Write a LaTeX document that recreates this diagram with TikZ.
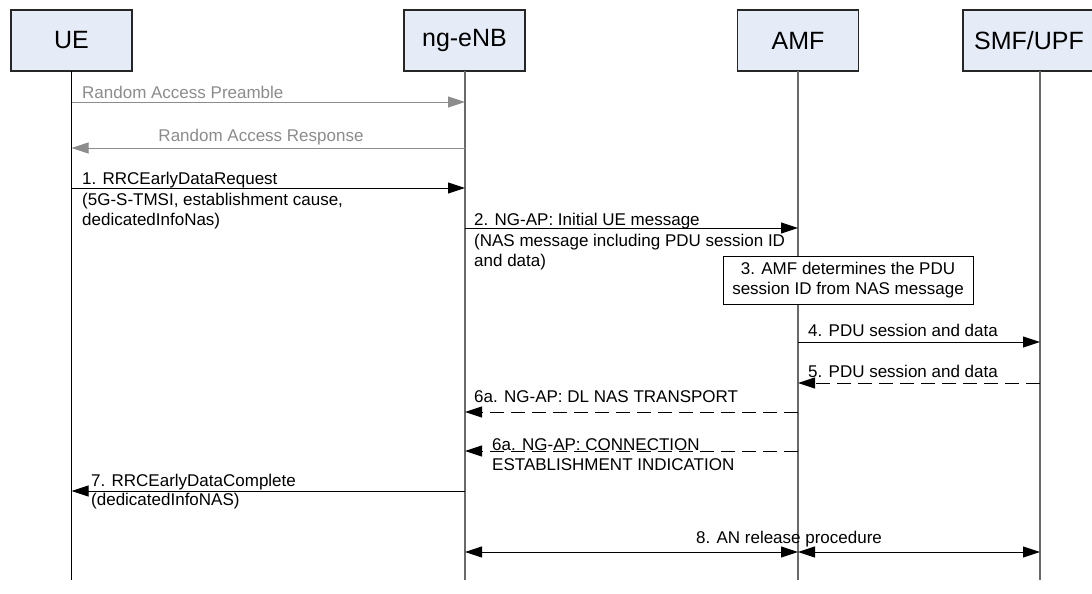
\documentclass[tikz,border=0pt]{standalone}
\usepackage{fontspec}
\setmainfont{Liberation Sans}
\usetikzlibrary{arrows.meta}
\definecolor{boxfill}{RGB}{230,236,247}
\definecolor{msggray}{RGB}{140,140,140}
\definecolor{lifegray}{RGB}{105,105,105}
\begin{document}
\begin{tikzpicture}[x=1pt,y=-1pt,
  head/.style={draw=black!85, fill=boxfill, line width=1.1pt, minimum width=121pt, minimum height=61pt, inner sep=0pt, font=\fontsize{25}{30}\selectfont},
  life/.style={draw=lifegray, line width=1.3pt},
  tip/.style={},
  msg/.style={draw=black, line width=0.9pt, -{Triangle[length=17pt,width=11pt]}},
  ramsg/.style={msg, draw=msggray},
  dmsg/.style={msg, dash pattern=on 14pt off 7pt},
  bimsg/.style={draw=black, line width=0.9pt, {Triangle[length=17pt,width=11pt]}-{Triangle[length=17pt,width=11pt]}},
  lbl/.style={font=\fontsize{17}{20}\selectfont, inner sep=0pt, anchor=base west},
  clbl/.style={lbl, anchor=base},
  stepbox/.style={draw=black, fill=white, line width=1pt, minimum width=250pt, minimum height=48pt, inner sep=0pt, align=center, font=\fontsize{17}{20}\selectfont}
]
\clip (0,0) rectangle (1092,594);
\fill[white] (0,0) rectangle (1092,594);

% header boxes
\node[head] (ue) at (71.5,40.5) {UE};
\node[head] (enb) at (464.5,40.5) {ng-eNB};
\node[head] (amf) at (798,40.5) {AMF};
\node[head, minimum width=132pt] (smf) at (1029,40.5) {SMF/UPF};

% lifelines
\coordinate (ueT) at (71.5,71);   \coordinate (ueB) at (71.5,580);
\coordinate (enbT) at (465,71);   \coordinate (enbB) at (465,580);
\coordinate (amfT) at (798,71);   \coordinate (amfB) at (798,580);
\coordinate (smfT) at (1040,71);  \coordinate (smfB) at (1040,580);
\draw[draw=black, line width=1pt] (ueT) -- (ueB);
\draw[life] (enbT) -- (enbB);
\draw[life] (amfT) -- (amfB);
\draw[life] (smfT) -- (smfB);

% message levels
\coordinate (m0) at (0,102);
\coordinate (m00) at (0,148);
\coordinate (m1) at (0,188);
\coordinate (m2) at (0,228);
\coordinate (m4) at (0,342);
\coordinate (m5) at (0,383);
\coordinate (m6) at (0,412);
\coordinate (m6b) at (0,451);
\coordinate (m7) at (0,491);
\coordinate (m8) at (0,552);

% Random access
\draw[ramsg] (ueT|-m0) -- (enbT|-m0);
\node[lbl, text=msggray] (t0) at (82,98) {Random Access Preamble};
\draw[ramsg] (enbT|-m00) -- (ueT|-m00);
\node[clbl, text=msggray] (t00) at (261,141) {Random Access Response};

% 1
\draw[msg] (ueT|-m1) -- (enbT|-m1);
\node[lbl] (t1a) at (82,184) {1. RRCEarlyDataRequest};
\node[lbl] (t1b) at (82,205) {(5G-S-TMSI, establishment cause,};
\node[lbl] (t1c) at (82,225) {dedicatedInfoNas)};

% 2
\draw[msg] (enbT|-m2) -- (amfT|-m2);
\node[lbl] (t2a) at (474,225) {2. NG-AP: Initial UE message};
\node[lbl] (t2b) at (474,246) {(NAS message including PDU session ID};
\node[lbl] (t2c) at (474,266) {and data)};

% 3
\node[stepbox] (s3) at (848,280) {3. AMF determines the PDU\\session ID from NAS message};

% 4
\draw[msg] (amfT|-m4) -- (smfT|-m4);
\node[lbl] (t4) at (808,336) {4. PDU session and data};

% 5
\draw[dmsg] (smfT|-m5) -- (amfT|-m5);
\node[lbl] (t5) at (808,377) {5. PDU session and data};

% 6a
\draw[dmsg] (amfT|-m6) -- (enbT|-m6);
\node[lbl] (t6) at (474,402) {6a. NG-AP: DL NAS TRANSPORT};

\draw[dmsg] (amfT|-m6b) -- (enbT|-m6b);
\node[lbl] (t6ba) at (492,450) {6a. NG-AP: CONNECTION};
\node[lbl] (t6bb) at (492,470) {ESTABLISHMENT INDICATION};

% 7
\draw[msg] (enbT|-m7) -- (ueT|-m7);
\node[lbl] (t7a) at (91,486) {7. RRCEarlyDataComplete};
\node[lbl] (t7b) at (91,505) {(dedicatedInfoNAS)};

% 8
\draw[bimsg] (enbT|-m8) -- (amfT|-m8);
\draw[bimsg] (amfT|-m8) -- (smfT|-m8);
\node[clbl] (t8) at (789,543) {8. AN release procedure};
\end{tikzpicture}
\end{document}
